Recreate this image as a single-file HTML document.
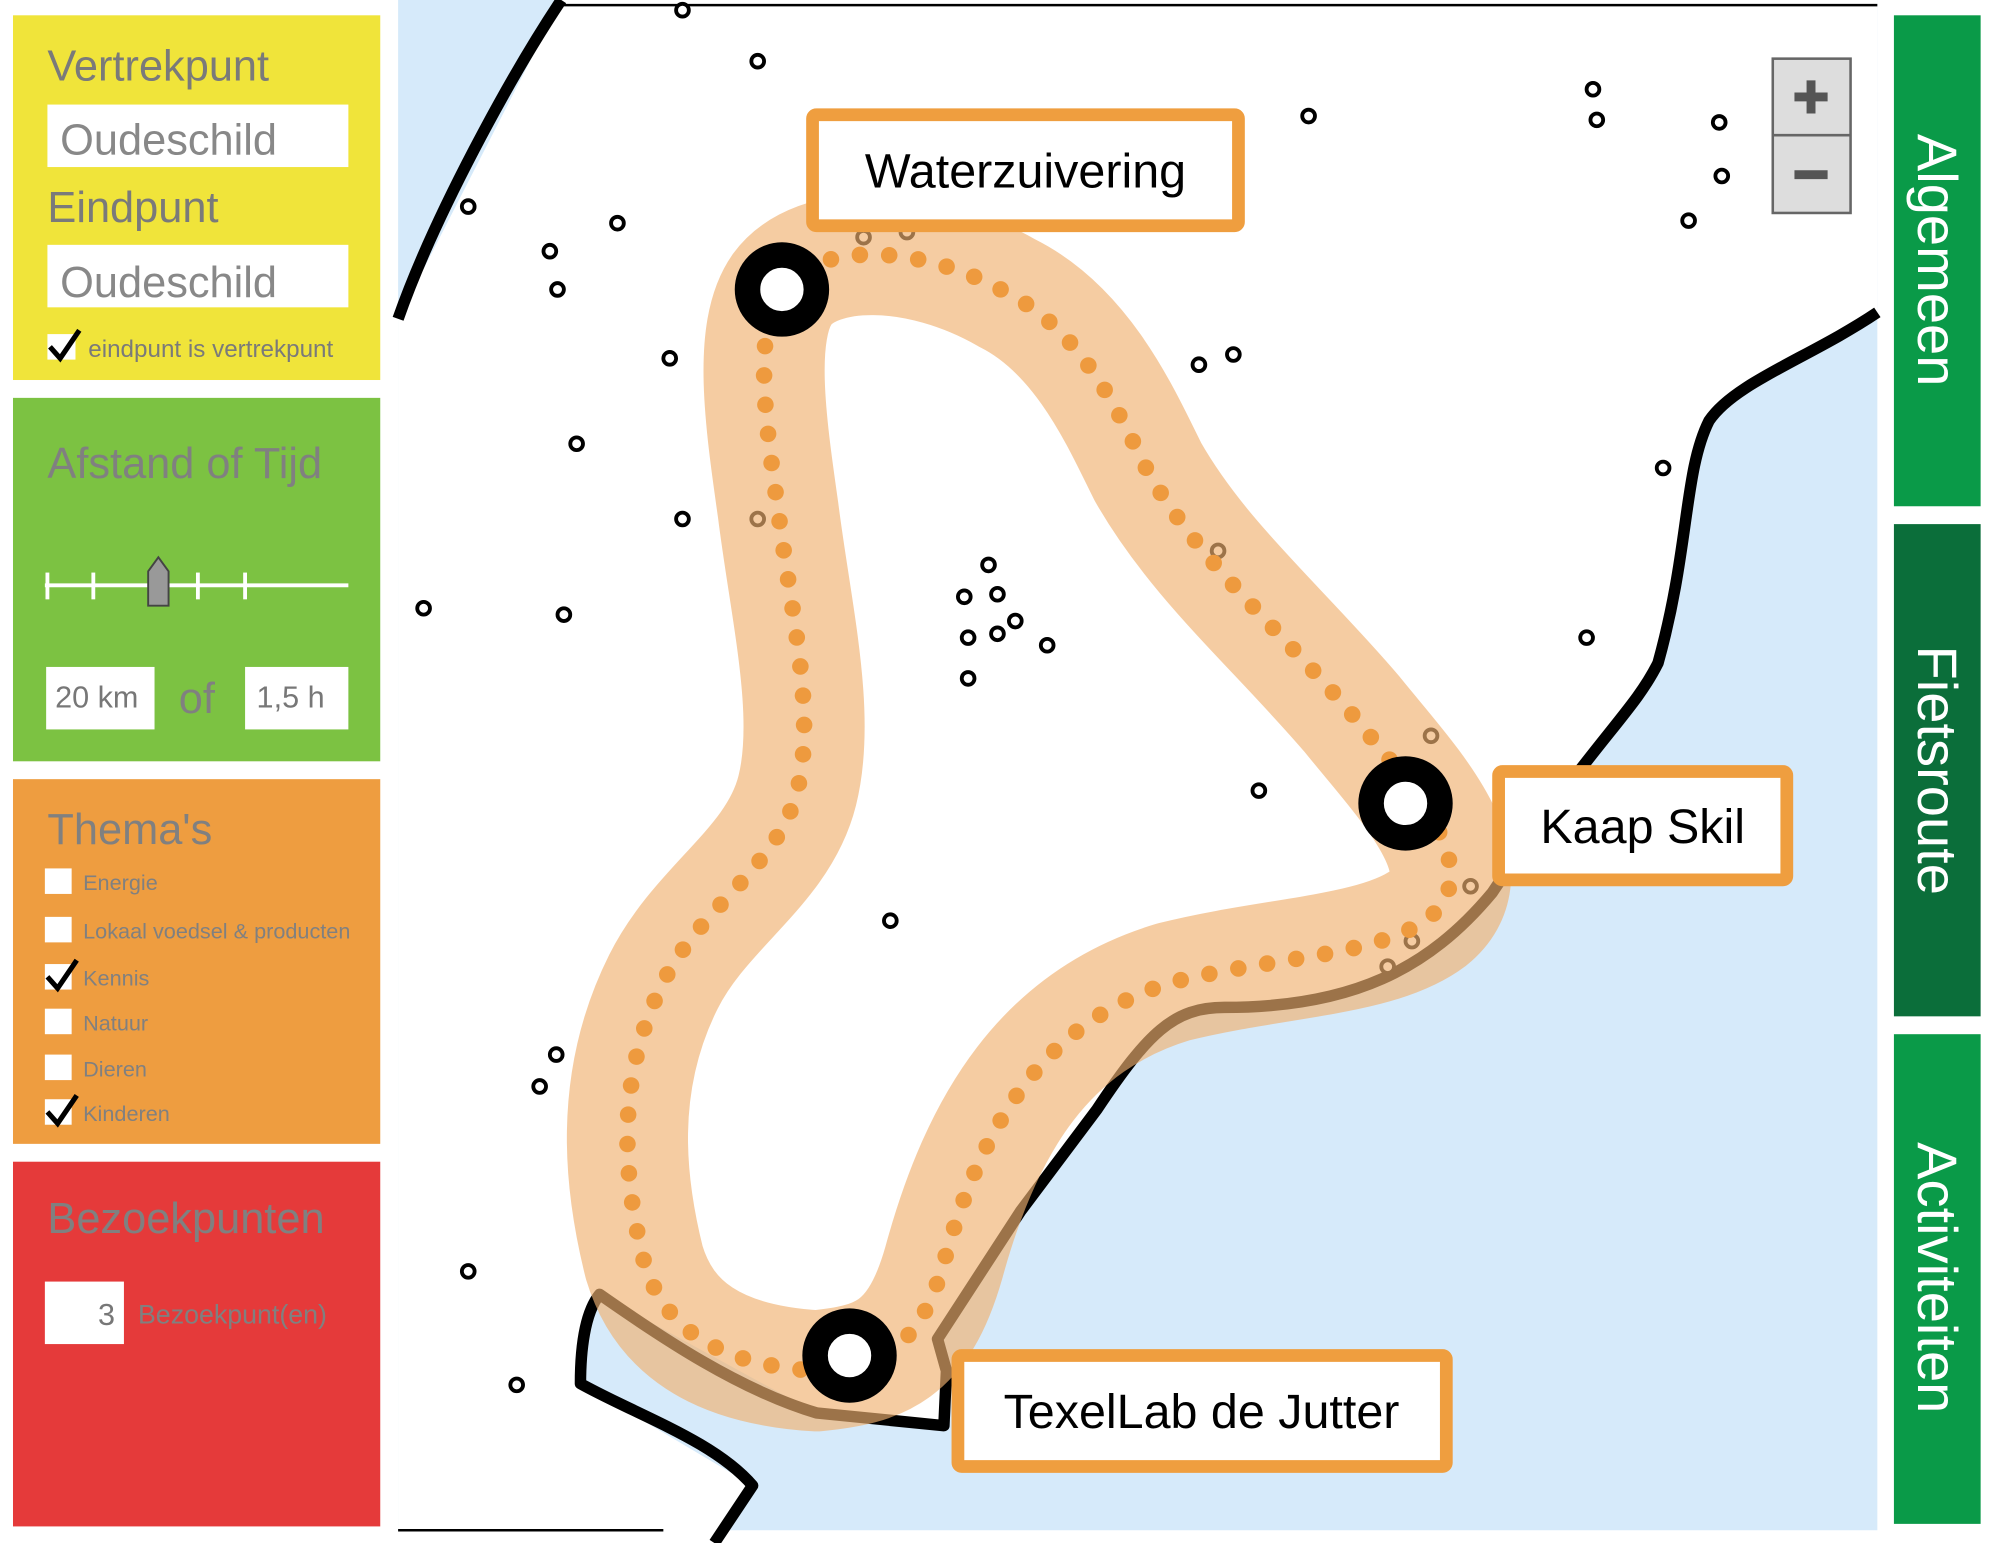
<!DOCTYPE html>
<html><head><meta charset="utf-8"><style>
html,body{margin:0;padding:0;background:#fff;}
svg{display:block;}
text{font-family:"Liberation Sans",sans-serif;}
</style></head><body>
<svg width="2000" height="1543" viewBox="0 0 1568 1210" xmlns="http://www.w3.org/2000/svg">
<rect width="1568" height="1210" fill="#fff"/>
<rect x="312" y="0" width="1160" height="1200" fill="#d6eafa"/>
<path d="M440,0 L1472,0 L1472,245 C1420,280 1360,300 1340,330 C1320,370 1325,430 1300,520 C1280,560 1250,580 1170,700 C1120,760 1060,790 960,790 C920,790 900,810 860,870 L800,950 L735,1050 L742,1075 L740,1118 L640,1108 L470,1015 L460,1030 L455,1085 L590,1165 L560,1210 L312,1210 L312,250 Z" fill="#fff"/>
<path d="M440,0 C400,60 340,170 312,250" stroke="#000" stroke-width="9" fill="none"/>
<line x1="440" y1="4" x2="1472" y2="4" stroke="#000" stroke-width="2"/>
<line x1="312" y1="1200" x2="520" y2="1200" stroke="#000" stroke-width="2"/>
<path d="M1472,245 C1420,280 1360,300 1340,330 C1320,370 1325,430 1300,520 C1280,560 1250,580 1170,700 C1120,760 1060,790 960,790 C920,790 900,810 860,870 L800,950 L735,1050 L742,1075 L740,1118 L640,1108 C580,1090 520,1050 470,1015 C458,1030 455,1060 455,1085 C500,1110 560,1130 590,1165 L560,1210" stroke="#000" stroke-width="9" fill="none" stroke-linejoin="round"/>
<g fill="#fff" stroke="#000" stroke-width="3">
<circle cx="535" cy="8" r="5"/><circle cx="594" cy="48" r="5"/><circle cx="1026" cy="91" r="5"/><circle cx="1249" cy="70" r="5"/><circle cx="1252" cy="94" r="5"/><circle cx="1348" cy="96" r="5"/><circle cx="1350" cy="138" r="5"/><circle cx="1324" cy="173" r="5"/><circle cx="367" cy="162" r="5"/><circle cx="431" cy="197" r="5"/><circle cx="484" cy="175" r="5"/><circle cx="437" cy="227" r="5"/><circle cx="525" cy="281" r="5"/><circle cx="940" cy="286" r="5"/><circle cx="967" cy="278" r="5"/><circle cx="452" cy="348" r="5"/><circle cx="535" cy="407" r="5"/><circle cx="1304" cy="367" r="5"/><circle cx="332" cy="477" r="5"/><circle cx="442" cy="482" r="5"/><circle cx="775" cy="443" r="5"/><circle cx="756" cy="468" r="5"/><circle cx="782" cy="466" r="5"/><circle cx="796" cy="487" r="5"/><circle cx="759" cy="500" r="5"/><circle cx="782" cy="497" r="5"/><circle cx="821" cy="506" r="5"/><circle cx="759" cy="532" r="5"/><circle cx="1244" cy="500" r="5"/><circle cx="987" cy="620" r="5"/><circle cx="698" cy="722" r="5"/><circle cx="436" cy="827" r="5"/><circle cx="423" cy="852" r="5"/><circle cx="367" cy="997" r="5"/><circle cx="405" cy="1086" r="5"/><circle cx="594" cy="407" r="5"/><circle cx="955" cy="432" r="5"/><circle cx="677" cy="186" r="5"/><circle cx="711" cy="182" r="5"/><circle cx="1122" cy="577" r="5"/><circle cx="1153" cy="695" r="5"/><circle cx="1107" cy="738" r="5"/><circle cx="1088" cy="758" r="5"/>
</g>
<path d="M613,227 C640,190 720,190 790,230 C850,260 880,330 900,370 C940,440 1000,490 1060,560 C1100,610 1170,680 1120,720 C1080,750 1000,750 920,770 C820,800 770,880 740,990 C720,1060 690,1070 640,1075 C560,1070 520,1040 505,990 C490,930 480,850 520,770 C550,710 610,680 625,620 C640,560 620,480 610,400 C600,330 590,260 613,227 Z" fill="none" stroke="#f0b070" stroke-opacity="0.65" stroke-width="95" stroke-linejoin="round"/>
<path d="M613,227 C640,190 720,190 790,230 C850,260 880,330 900,370 C940,440 1000,490 1060,560 C1100,610 1170,680 1120,720 C1080,750 1000,750 920,770 C820,800 770,880 740,990 C720,1060 690,1070 640,1075 C560,1070 520,1040 505,990 C490,930 480,850 520,770 C550,710 610,680 625,620 C640,560 620,480 610,400 C600,330 590,260 613,227 Z" fill="none" stroke="#ee9a3e" stroke-width="13" stroke-linecap="round" stroke-dasharray="0 23"/>
<g fill="#fff" stroke="#000" stroke-width="20">
<circle cx="613" cy="227" r="27"/><circle cx="1102" cy="630" r="27"/><circle cx="666" cy="1063" r="27"/>
</g>
<g fill="#fff" stroke="#ef9e3f" stroke-width="10">
<rect x="637" y="90" width="334" height="87" rx="3"/>
<rect x="1175" y="605" width="226" height="85" rx="3"/>
<rect x="751" y="1063" width="383" height="87" rx="3"/>
</g>
<g font-size="38" fill="#000" text-anchor="middle">
<text x="804" y="147">Waterzuivering</text>
<text x="1288" y="661">Kaap Skil</text>
<text x="942" y="1120">TexelLab de Jutter</text>
</g>
<rect x="1390" y="46" width="61" height="121" fill="#ddd" stroke="#666" stroke-width="2"/>
<line x1="1390" y1="106" x2="1451" y2="106" stroke="#666" stroke-width="2"/>
<path d="M1420,63v26M1407,76h26" stroke="#555" stroke-width="7"/>
<path d="M1407,137h26" stroke="#555" stroke-width="7"/>
<rect x="1485" y="12" width="68" height="385" fill="#0a9a48"/>
<rect x="1485" y="411" width="68" height="386" fill="#0b6e3a"/>
<rect x="1485" y="811" width="68" height="384" fill="#0a9a48"/>
<g font-size="44" fill="#fff" text-anchor="middle">
<text transform="translate(1504,204) rotate(90)">Algemeen</text>
<text transform="translate(1504,604) rotate(90)">Fietsroute</text>
<text transform="translate(1504,1002) rotate(90)">Activiteiten</text>
</g>
<rect x="10" y="12" width="288" height="286" fill="#f0e43a"/>
<g font-size="34" fill="#7a7a7a">
<text x="37" y="63">Vertrekpunt</text>
<text x="37" y="174">Eindpunt</text>
</g>
<rect x="37" y="82" width="236" height="49" fill="#fff"/>
<rect x="37" y="192" width="236" height="49" fill="#fff"/>
<g font-size="34" fill="#888"><text x="47" y="121">Oudeschild</text><text x="47" y="233">Oudeschild</text></g>
<rect x="37" y="262" width="22" height="20" fill="#fff"/>
<path d="M39,272l8,9 15,-22" stroke="#000" stroke-width="4" fill="none"/>
<text x="69" y="280" font-size="19" fill="#7a7a7a">eindpunt is vertrekpunt</text>
<rect x="10" y="312" width="288" height="285" fill="#7cc242"/>
<text x="37" y="375" font-size="34" fill="#808080">Afstand of Tijd</text>
<line x1="35" y1="459" x2="273" y2="459" stroke="#fff" stroke-width="3"/>
<g stroke="#fff" stroke-width="3"><line x1="37" y1="449" x2="37" y2="470"/><line x1="73" y1="449" x2="73" y2="470"/><line x1="155" y1="449" x2="155" y2="470"/><line x1="192" y1="449" x2="192" y2="470"/></g>
<path d="M116,448 L124,437 L132,448 V475 H116 Z" fill="#999" stroke="#444" stroke-width="1.5"/>
<rect x="36" y="523" width="85" height="49" fill="#fff"/>
<rect x="192" y="523" width="81" height="49" fill="#fff"/>
<text x="43" y="555" font-size="24" fill="#777">20 km</text>
<text x="140" y="559" font-size="34" fill="#808080">of</text>
<text x="201" y="555" font-size="24" fill="#777">1,5 h</text>
<rect x="10" y="611" width="288" height="286" fill="#ee9d40"/>
<text x="37" y="662" font-size="34" fill="#808080">Thema's</text>
<g fill="#fff">
<rect x="35" y="681" width="21" height="20"/><rect x="35" y="719" width="21" height="20"/><rect x="35" y="756" width="21" height="20"/><rect x="35" y="791" width="21" height="20"/><rect x="35" y="827" width="21" height="20"/><rect x="35" y="862" width="21" height="20"/>
</g>
<path d="M37,766l8,9 15,-22M37,872l8,9 15,-22" stroke="#000" stroke-width="4" fill="none"/>
<g font-size="17" fill="#808080">
<text x="65" y="698">Energie</text><text x="65" y="736">Lokaal voedsel &amp; producten</text><text x="65" y="773">Kennis</text><text x="65" y="808">Natuur</text><text x="65" y="844">Dieren</text><text x="65" y="879">Kinderen</text>
</g>
<rect x="10" y="911" width="288" height="286" fill="#e53a3a"/>
<text x="37" y="967" font-size="34" fill="#808080">Bezoekpunten</text>
<rect x="35" y="1005" width="62" height="49" fill="#fff"/>
<text x="90" y="1039" font-size="24" fill="#777" text-anchor="end">3</text>
<text x="108" y="1038" font-size="21" fill="#808080">Bezoekpunt(en)</text>
</svg>
</body></html>
